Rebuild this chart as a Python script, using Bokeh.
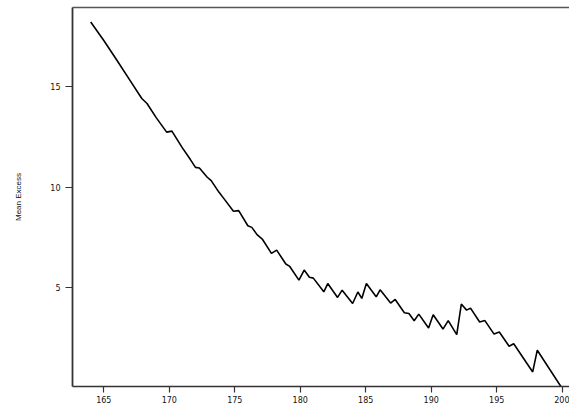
from bokeh.plotting import figure
from bokeh.models import LinearAxis, FixedTicker, Label, Range1d
from bokeh.embed import file_html
from bokeh.resources import INLINE

# Mean excess function values
u_vals = [164.0, 165.0, 166.0, 167.0, 167.9, 168.3, 169.0, 169.8, 170.2, 171.0,
          171.6, 172.0, 172.3, 172.9, 173.2, 173.8, 174.1, 174.9, 175.3, 176.0,
          176.3, 176.7, 177.1, 177.8, 178.2, 178.9, 179.2, 179.9, 180.3, 180.7,
          181.0, 181.8, 182.1, 182.85, 183.2, 184.0, 184.4, 184.7, 185.05, 185.8,
          186.1, 186.9, 187.25, 187.95, 188.3, 188.7, 189.05, 189.8, 190.15, 190.9,
          191.3, 191.95, 192.3, 192.7, 193.0, 193.7, 194.1, 194.8, 195.2, 195.95,
          196.3, 197.75, 198.1, 200.0]
mean_excess = [18.2, 17.28, 16.3, 15.3, 14.4, 14.15, 13.45, 12.73, 12.78, 11.95,
               11.38, 10.98, 10.95, 10.49, 10.32, 9.74, 9.49, 8.80, 8.83, 8.08,
               8.0, 7.64, 7.42, 6.71, 6.87, 6.18, 6.06, 5.38, 5.88, 5.52,
               5.48, 4.80, 5.21, 4.52, 4.88, 4.22, 4.79, 4.47, 5.21, 4.55,
               4.90, 4.24, 4.42, 3.76, 3.72, 3.36, 3.69, 3.0, 3.66, 2.95,
               3.37, 2.67, 4.19, 3.89, 3.99, 3.30, 3.37, 2.70, 2.80, 2.10,
               2.22, 0.82, 1.90, 0.0]
x_ticks = [165, 170, 175, 180, 185, 190, 195, 200]
y_ticks = [5, 10, 15]
x_label = "u"
y_label = "Mean Excess"

p = figure(width=569, height=414, output_backend="svg", toolbar_location=None,
           x_range=Range1d(162.61, 200.56), y_range=Range1d(0.097, 18.92),
           min_border_left=72, min_border_right=0, min_border_top=7,
           min_border_bottom=28, x_axis_location=None, y_axis_location=None)
p.outline_line_color = None
p.grid.visible = False
p.background_fill_color = "white"
p.border_fill_color = "white"

p.line(u_vals, mean_excess, line_color="black", line_width=1.6)

axis_color = "#333333"

xa = LinearAxis(ticker=FixedTicker(ticks=x_ticks))
xa.axis_line_color = axis_color
xa.axis_line_width = 1.5
xa.major_tick_line_color = axis_color
xa.major_tick_line_width = 1.2
xa.major_tick_out = 6
xa.major_tick_in = 0
xa.minor_tick_line_color = None
xa.major_label_standoff = 3
xa.major_label_text_font = "DejaVu Sans"
xa.major_label_text_font_size = "8px"
xa.major_label_text_color = "#111111"
p.add_layout(xa, "below")

ya = LinearAxis(ticker=FixedTicker(ticks=y_ticks))
ya.axis_line_color = axis_color
ya.axis_line_width = 1.8
ya.major_tick_line_color = axis_color
ya.major_tick_line_width = 1.2
ya.major_tick_out = 7
ya.major_tick_in = 0
ya.minor_tick_line_color = None
ya.major_label_standoff = 5
ya.major_label_orientation = "horizontal"
ya.major_label_text_font = "DejaVu Sans"
ya.major_label_text_font_size = "8px"
ya.major_label_text_color = "#111111"
ya.axis_label = y_label
ya.axis_label_text_font = "Liberation Sans"
ya.axis_label_text_font_size = "8px"
ya.axis_label_text_font_style = "normal"
ya.axis_label_text_color = "#111111"
ya.axis_label_standoff = 24
p.add_layout(ya, "left")

ta = LinearAxis(ticker=FixedTicker(ticks=[]))
ta.axis_line_color = "#555555"
ta.axis_line_width = 1.5
ta.major_tick_out = 0
ta.major_tick_in = 0
ta.minor_tick_line_color = None
ta.major_label_text_font_size = "0px"
ta.major_label_standoff = 0
p.add_layout(ta, "above")

p.add_layout(Label(x=181.85, y=-1.27, text=x_label, text_align="center",
                   text_baseline="bottom", text_font="Liberation Sans",
                   text_font_size="8px", text_color="#111111"))

open("out.html", "w").write(file_html(p, INLINE))
